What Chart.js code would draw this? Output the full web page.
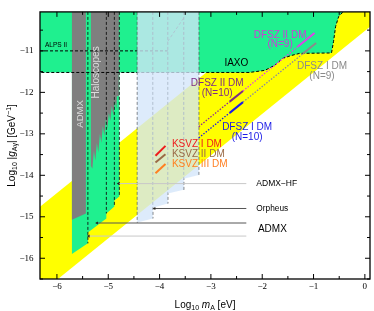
<!DOCTYPE html>
<html><head><meta charset="utf-8">
<script src="https://cdn.jsdelivr.net/npm/chart.js@4.4.1/dist/chart.umd.min.js"></script>
<style>html,body{margin:0;padding:0;background:#fff;}canvas{display:block;}</style>
</head><body>
<canvas id="c" width="374" height="311"></canvas>
<script>
// ---- axes (log10 m_A [eV], log10 |g| [GeV^-1]) ----
const xRange = [-6.33, 0.1];
const yRange = [-16.5, -10.06];
const xTickLabels = [-6, -5, -4, -3, -2, -1, 0];
const yTickLabels = [-16, -15, -14, -13, -12, -11];

// ---- regions, [log10 mA, log10 g] ----
const qcdBand = [[-6.5,-16.7],[-6.18,-16.7],[0.3,-10.22],[0.3,-9.9],[-1.47,-9.9],[-6.5,-14.93]];
const iaxoRegion = [[-6.5,-9.9],[-6.5,-11.52],[-2.25,-11.52],[-1.95,-11.47],[-1.76,-11.35],[-1.60,-11.18],[-1.43,-11.11],[-1.27,-11.06],[-0.65,-11.05],[-0.61,-10.77],[-0.57,-10.41],[-0.51,-10.17],[-0.44,-10.08],[-0.37,-10.03],[-0.33,-9.9]];
const haloscopeGreen = [[-5.708,-9.9],[-4.784,-9.9],[-4.784,-14.51],[-4.881,-14.61],[-4.881,-14.75],[-5.037,-14.92],[-5.037,-15.04],[-5.397,-15.38],[-5.397,-15.64],[-5.708,-15.90]];
const admxGray = [[-5.708,-9.9],[-5.436,-9.9],[-5.436,-14.92],[-5.708,-15.07]];
const haloGray = [[-5.339,-9.9],[-4.794,-9.9],[-4.794,-12.091],[-4.833,-12.091],[-4.842,-12.403],[-4.872,-12.211],[-4.901,-12.571],[-4.930,-12.331],[-4.959,-12.691],[-4.988,-12.499],[-5.018,-12.882],[-5.047,-12.643],[-5.076,-13.050],[-5.105,-12.811],[-5.134,-13.218],[-5.163,-13.002],[-5.193,-13.458],[-5.222,-13.218],[-5.251,-13.650],[-5.280,-13.410],[-5.309,-13.842],[-5.339,-13.770]];
const projectedRegion = [[-4.434,-9.9],[-3.237,-9.9],[-3.237,-13.99],[-3.529,-14.08],[-3.529,-14.35],[-3.840,-14.44],[-3.840,-14.68],[-4.132,-14.78],[-4.132,-15.04],[-4.434,-15.14]];

// ---- vertical dashed edges ----
const haloEdgesX = [-5.397, -5.037, -4.881, -4.784];
const haloEdgesBottom = [-15.64, -14.92, -14.75, -14.51];
const projEdgesX = [-4.434, -4.132, -3.840, -3.529, -3.237];
const projEdgesBottom = [-15.14, -15.04, -14.68, -14.35, -13.99];
const alpsLine = [[-6.33,-11.0],[-3.84,-11.0]];
const projDiagonal = [[-3.84,-10.77],[-3.51,-10.17]];

// ---- DFSZ / KSVZ lines ----
const dfszIIdotN10 = [[-3.237,-12.827],[-2.634,-12.224]];
const dfszIIsolidN10 = [[-2.634,-12.224],[-2.375,-11.965]];
const dfszIIdotN9 = [[-2.375,-11.965],[-1.305,-10.895]];
const dfszIIsolidN9 = [[-1.305,-10.895],[-0.98,-10.57]];
const dfszIdotN10 = [[-3.237,-13.097],[-2.634,-12.494]];
const dfszIsolidN10 = [[-2.634,-12.494],[-2.375,-12.235]];
const dfszIdotN9 = [[-2.375,-12.235],[-1.21,-11.07]];
const dfszIsolidN9 = [[-1.21,-11.07],[-0.95,-10.81]];
const ksvzI = [[-4.08,-13.53],[-3.885,-13.29]];
const ksvzII = [[-4.08,-13.69],[-3.885,-13.49]];
const ksvzIII = [[-4.08,-13.95],[-3.885,-13.73]];

// ---- label pointer lines ----
const admxHFLine = [[-4.80,-14.20],[-2.31,-14.20]];
const orpheusLine = [[-4.10,-14.80],[-2.31,-14.80]];
const admxLineA = [[-5.22,-15.15],[-2.31,-15.15]];
const admxLineB = [[-5.38,-15.465],[-2.31,-15.465]];
const arrowTips = [[-4.80,-14.20],[-4.10,-14.80],[-5.22,-15.15],[-5.38,-15.465]];

// ---- text labels ----
const labels = [
  {t:'ALPS II', x:-6.233, y:-10.856, size:6.5, color:'#000', align:'left'},
  {t:'ADMX', x:-5.553, y:-12.52, size:9.5, color:'#dcdcdc', rot:-90},
  {t:'Haloscopes', x:-5.241, y:-11.52, size:10, color:'#dcdcdc', rot:-90},
  {t:'IAXO', x:-2.504, y:-11.293, size:10, color:'#000'},
  {t:'DFSZ II DM', x:-1.652, y:-10.612, size:10, color:'#d03ad8'},
  {t:'(N=9)', x:-1.652, y:-10.837, size:10, color:'#d03ad8'},
  {t:'DFSZ I DM', x:-0.835, y:-11.36, size:10, color:'#8a8a8a'},
  {t:'(N=9)', x:-0.835, y:-11.61, size:10, color:'#8a8a8a'},
  {t:'DFSZ II DM', x:-2.877, y:-11.772, size:10, color:'#7d2c86'},
  {t:'(N=10)', x:-2.877, y:-12.026, size:10, color:'#7d2c86'},
  {t:'DFSZ I DM', x:-2.294, y:-12.851, size:10, color:'#1c1ce6'},
  {t:'(N=10)', x:-2.294, y:-13.074, size:10, color:'#1c1ce6'},
  {t:'KSVZ I DM', x:-3.759, y:-13.245, size:10, color:'#ee1c1c', align:'left'},
  {t:'KSVZ II DM', x:-3.759, y:-13.50, size:10, color:'#9a6a46', align:'left'},
  {t:'KSVZ III DM', x:-3.759, y:-13.74, size:10, color:'#ff7f22', align:'left'},
  {t:'ADMX\u2212HF', x:-2.115, y:-14.20, size:8.5, color:'#000', align:'left'},
  {t:'Orpheus', x:-2.115, y:-14.808, size:8.3, color:'#000', align:'left'},
  {t:'ADMX', x:-2.084, y:-15.312, size:10, color:'#000', align:'left'}
];

const GREEN = '#1ff08f', GRAY = '#7f7f7f', YELLOW = '#ffff00', OVERLAY = 'rgba(212,230,250,0.78)';

const P = a => a.map(([x, y]) => ({x, y}));
const isInt = v => Math.abs(v - Math.round(v)) < 1e-6;
const fmt = v => (v < 0 ? '\u2212' + Math.abs(Math.round(v)) : String(Math.round(v)));

const datasets = [];
function poly(data, color) {
  datasets.push({data: P(data), showLine: true, fill: 'shape', backgroundColor: color, borderColor: 'transparent', borderWidth: 0, pointRadius: 0});
}
function line(data, color, width, dash) {
  datasets.push({data: P(data), showLine: true, fill: false, borderColor: color, borderWidth: width, borderDash: dash || [], pointRadius: 0, borderCapStyle: 'butt'});
}

poly(qcdBand, YELLOW);
poly(iaxoRegion, GREEN);
poly(haloscopeGreen, GREEN);
poly(admxGray, GRAY);
poly(haloGray, GRAY);
line(iaxoRegion.slice(1), '#000', 1, [3, 2]);
line(alpsLine, '#000', 1, [3, 2]);
haloEdgesX.forEach((x, i) => line([[x, yRange[1]], [x, haloEdgesBottom[i]]], '#111', 0.9, [3, 2]));
projEdgesX.forEach((x, i) => line([[x, yRange[1]], [x, projEdgesBottom[i]]], '#222', 0.9, [3, 2]));
line(projDiagonal, '#333', 0.8, [3, 2]);
poly(projectedRegion, OVERLAY);
line(dfszIIdotN10, '#8a2a92', 1.3, [1.5, 1.5]);
line(dfszIIsolidN10, '#7d2c86', 2);
line(dfszIIdotN9, '#e040e8', 1.3, [1.5, 1.5]);
line(dfszIIsolidN9, '#e040e8', 2);
line(dfszIdotN10, '#1c1ce6', 1.3, [1.5, 1.5]);
line(dfszIsolidN10, '#1c1ce6', 2);
line(dfszIdotN9, '#8888a0', 1.3, [1.5, 1.5]);
line(dfszIsolidN9, '#8a8a8a', 2);
line(ksvzI, '#ee1c1c', 2);
line(ksvzII, '#9a6a46', 2);
line(ksvzIII, '#ff7f22', 2);
line(admxHFLine, '#c8c8c8', 1);
line(orpheusLine, '#555', 1);
line(admxLineA, '#555', 1);
line(admxLineB, '#c8c8c8', 1);
datasets.push({data: P(arrowTips), showLine: false, pointStyle: 'triangle', rotation: 270, pointRadius: 1.8, backgroundColor: '#222', borderColor: '#222', borderWidth: 0});

// dataset i drawn in array order (first = bottom)
datasets.forEach((d, i) => { d.order = datasets.length - i; });

function partsFont(p, size) {
  return (p.i ? 'italic ' : '') + ((p.sub || p.sup) ? size * 0.7 : size) + 'px "Liberation Sans", Arial, sans-serif';
}
function drawParts(ctx, parts, x, y, size, align) {
  let w = 0;
  for (const p of parts) { ctx.font = partsFont(p, size); w += ctx.measureText(p.t).width; }
  let cx = align === 'center' ? x - w / 2 : x;
  ctx.textAlign = 'left'; ctx.textBaseline = 'alphabetic';
  for (const p of parts) {
    ctx.font = partsFont(p, size);
    const dy = p.sub ? size * 0.28 : p.sup ? -size * 0.4 : 0;
    ctx.fillText(p.t, cx, y + dy);
    cx += ctx.measureText(p.t).width;
  }
}

const decor = {
  id: 'decor',
  afterDatasetsDraw(chart) {
    const {ctx, chartArea: a, scales: {x, y}} = chart;
    ctx.save();
    ctx.beginPath(); ctx.rect(a.left, a.top, a.right - a.left, a.bottom - a.top); ctx.clip();
    for (const l of labels) {
      ctx.save();
      ctx.translate(x.getPixelForValue(l.x), y.getPixelForValue(l.y));
      if (l.rot) ctx.rotate(l.rot * Math.PI / 180);
      ctx.font = l.size + 'px "Liberation Sans", Arial, sans-serif';
      ctx.fillStyle = l.color;
      ctx.textAlign = l.align || 'center';
      ctx.textBaseline = 'middle';
      ctx.fillText(l.t, 0, 0);
      ctx.restore();
    }
    ctx.restore();
    // inward ticks and frame
    ctx.save();
    ctx.strokeStyle = '#000'; ctx.lineWidth = 1;
    ctx.beginPath();
    x.ticks.forEach(t => {
      const p = x.getPixelForValue(t.value), L = isInt(t.value) ? 5 : 3;
      ctx.moveTo(p, a.bottom); ctx.lineTo(p, a.bottom - L);
      ctx.moveTo(p, a.top); ctx.lineTo(p, a.top + L);
    });
    y.ticks.forEach(t => {
      const p = y.getPixelForValue(t.value), L = isInt(t.value) ? 5 : 3;
      ctx.moveTo(a.left, p); ctx.lineTo(a.left + L, p);
      ctx.moveTo(a.right, p); ctx.lineTo(a.right - L, p);
    });
    ctx.stroke();
    ctx.lineWidth = 1.3;
    ctx.strokeRect(a.left, a.top, a.right - a.left, a.bottom - a.top);
    // axis titles
    ctx.fillStyle = '#000';
    drawParts(ctx, [{t:'Log'},{t:'10',sub:1},{t:' '},{t:'m',i:1},{t:'A',sub:1},{t:' [eV]'}], (a.left + a.right) / 2, 307.5, 10, 'center');
    ctx.translate(14.5, (a.top + a.bottom) / 2);
    ctx.rotate(-Math.PI / 2);
    drawParts(ctx, [{t:'Log'},{t:'10',sub:1},{t:' |'},{t:'g',i:1},{t:'A\u03b3',sub:1},{t:'| [GeV'},{t:'\u22121',sup:1},{t:']'}], 0, 0, 10, 'center');
    ctx.restore();
  }
};

new Chart(document.getElementById('c'), {
  type: 'scatter',
  data: {datasets},
  options: {
    responsive: false, animation: false, events: [],
    layout: {padding: {top: 10.5, right: 3.5, left: 0, bottom: 0}},
    plugins: {legend: {display: false}, tooltip: {enabled: false}},
    scales: {
      x: {
        type: 'linear', min: xRange[0], max: xRange[1],
        afterFit: s => { s.height = 32; },
        grid: {display: false, drawTicks: false}, border: {display: false},
        afterBuildTicks: s => { s.ticks = s.ticks.filter(t => Math.abs(t.value * 2 - Math.round(t.value * 2)) < 1e-6); },
        ticks: {stepSize: 0.5, autoSkip: false, maxRotation: 0, includeBounds: false, padding: 2.5, color: '#000',
          font: {family: '"Liberation Serif", serif', size: 9},
          callback: v => (isInt(v) && xTickLabels.includes(Math.round(v))) ? fmt(v) : ''}
      },
      y: {
        type: 'linear', min: yRange[0], max: yRange[1],
        afterFit: s => { s.width = 40; },
        grid: {display: false, drawTicks: false}, border: {display: false},
        afterBuildTicks: s => { s.ticks = s.ticks.filter(t => Math.abs(t.value * 2 - Math.round(t.value * 2)) < 1e-6); },
        ticks: {stepSize: 0.5, autoSkip: false, includeBounds: false, padding: 6.5, color: '#000',
          font: {family: '"Liberation Serif", serif', size: 9},
          callback: v => (isInt(v) && yTickLabels.includes(Math.round(v))) ? fmt(v) : ''}
      }
    }
  },
  plugins: [decor]
});
</script>
</body></html>
